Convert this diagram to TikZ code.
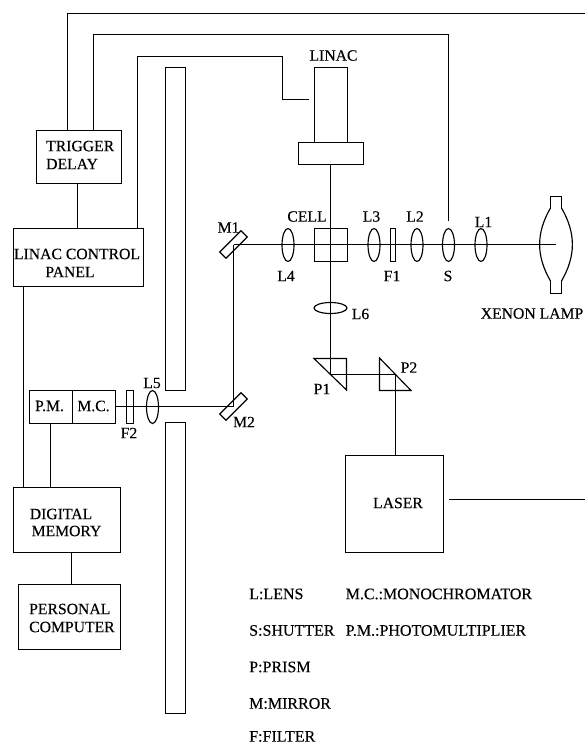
\documentclass[tikz,border=0pt]{standalone}
\usepackage{fontspec}
\setmainfont[FakeBold=0.25]{Liberation Serif}
\usetikzlibrary{shapes.geometric,calc}
\tikzset{
  wire/.style={line width=1.15pt,black},
  boxn/.style={draw=black,line width=1.15pt,inner sep=0pt,outer sep=0pt},
  lens/.style={draw=black,ellipse,line width=1.15pt,inner sep=0pt,outer sep=0pt,minimum width=#1},
  lens/.default=12pt,
  lab/.style={inner sep=0pt,font=\fontsize{15.7}{18}\selectfont},
  legend/.style={inner sep=0pt,anchor=west,font=\fontsize{16}{18}\selectfont},
  inbox/.style={inner sep=0pt,anchor=west,align=left,font=\fontsize{15.7}{18}\selectfont}
}
\begin{document}
\begin{tikzpicture}[x=1pt,y=-1pt]
\useasboundingbox (0,0) rectangle (585,744);
% boxes
\node[boxn,minimum width=85pt,minimum height=53pt] (trig) at (79,157) {};
\node[boxn,minimum width=130pt,minimum height=58pt] (panel) at (78.5,257.5) {};
\node[boxn,minimum width=43pt,minimum height=33pt] (pm) at (51,407) {};
\node[boxn,minimum width=43pt,minimum height=33pt] (mc) at (94,407) {};
\node[boxn,minimum width=107pt,minimum height=65pt] (mem) at (67,520) {};
\node[boxn,minimum width=102pt,minimum height=65pt] (pc) at (69.5,617) {};
\node[boxn,minimum width=33pt,minimum height=75pt] (linac) at (331,105) {};
\node[boxn,minimum width=65pt,minimum height=22pt] (base) at (331,153.5) {};
\node[boxn,minimum width=98pt,minimum height=97pt] (laser) at (394.5,504) {};
\node[boxn,minimum width=20pt,minimum height=323pt] (wallA) at (175.5,229) {};
\node[boxn,minimum width=20pt,minimum height=291pt] (wallB) at (175.5,568) {};
\node[boxn,minimum width=33pt,minimum height=33pt] (cell) at (331,245) {};
\node[boxn,minimum width=5pt,minimum height=33pt] (f1) at (393,245) {};
\node[boxn,minimum width=7pt,minimum height=33pt] (f2) at (130,407) {};
% box texts
\node[inbox] (tTrig) at (46,155) {TRIGGER\\DELAY};
\node[lab] (tPan1) at (77,254) {LINAC CONTROL};
\node[lab] (tPan2) at (70,272) {PANEL};
\node[lab] (tPM) at (49.5,406) {P.M.};
\node[lab] (tMC) at (93.5,406) {M.C.};
\node[lab] (tDig) at (61,514) {DIGITAL};
\node[lab] (tMem) at (66.5,531) {MEMORY};
\node[inbox] (tPC) at (29,618) {PERSONAL\\COMPUTER};
\node[lab] (tLaser) at (398,503) {LASER};
% free ends
\coordinate (topL) at (67.5,13.5);
\coordinate (topR) at (585,13.5);
\coordinate (secL) at (93.5,34.5);
\coordinate (secR) at (448.5,34.5);
\coordinate (sEnd) at (448.5,221);
\coordinate (thiL) at (137.5,56.5);
\coordinate (thiR) at (282.5,56.5);
\coordinate (thiB) at (282.5,99.5);
\coordinate (thiE) at (309,99.5);
\coordinate (beamR) at (556,244.5);
\coordinate (m1) at (233.5,244.5);
\coordinate (m2) at (233.5,406.5);
\coordinate (p1c) at (330.5,374.5);
\coordinate (p2c) at (395.5,374.5);
\coordinate (lasL) at (449,499.5);
\coordinate (lasR) at (585,499.5);
% optics
\foreach \n/\x in {l4/288,l3/374,l2/417,s/448.5,l1/481}
  \node[lens,minimum height=33pt] (\n) at (\x,245) {};
\node[lens,minimum height=33pt] (l5) at (152.5,407) {};
\node[lens=33pt,minimum height=11pt] (l6) at (330.5,308) {};
% wires
\draw[wire] (trig.north -| topL) -- (topL) -- (topR);
\draw[wire] (trig.north -| secL) -- (secL) -- (secR) -- (sEnd);
\draw[wire] (panel.north -| thiL) -- (thiL) -- (thiR) -- (thiB) -- (thiE);
\draw[wire] (trig.south -| 77.5,0) -- (panel.north -| 77.5,0);
\draw[wire] (panel.south -| 23.5,0) -- (mem.north -| 23.5,0);
\draw[wire] (pm.south -| 50.5,0) -- (mem.north -| 50.5,0);
\draw[wire] (mem.south -| 71.5,0) -- (pc.north -| 71.5,0);
% beams
\draw[wire] (m1) -- (beamR);
\draw[wire] (m1) -- (m2);
\draw[wire] (mc.east |- m2) -- (m2);
\draw[wire] (base.south -| p1c) -- (p1c) -- (p2c) -- (laser.north -| p2c);
\draw[wire] (lasL) -- (lasR);
% mirrors
\draw[wire] ($(m1)+(7.5,-13.7)$) -- ($(m1)+(13.7,-7.5)$) -- ($(m1)+(-7.5,13.7)$) -- ($(m1)+(-13.7,7.5)$) -- cycle;
\draw[wire] ($(m2)+(7.5,-13.7)$) -- ($(m2)+(13.7,-7.5)$) -- ($(m2)+(-7.5,13.7)$) -- ($(m2)+(-13.7,7.5)$) -- cycle;
% prisms
\draw[wire] (314,358.5) -- (346.5,358.5) -- (346.5,390) -- cycle;
\draw[wire] (379.5,358) -- (379.5,390.5) -- (411,390.5) -- cycle;
% lamp
\draw[wire] (550.5,209) -- (550.5,196.5) -- (561.5,196.5) -- (561.5,209);
\draw[wire] (550.5,280) -- (550.5,293.5) -- (561.5,293.5) -- (561.5,280);
\draw[wire] (550.5,208) .. controls (536,233) and (536,256) .. (550.5,281);
\draw[wire] (561.5,208) .. controls (576,233) and (576,256) .. (561.5,281);
% labels
\node[lab] (tLinac) at (333.5,55.5) {LINAC};
\node[lab] (tCell) at (307,216.5) {CELL};
\node[lab] (tM1) at (228.5,227.5) {M1};
\node[lab] (tL4) at (286,276) {L4};
\node[lab] (tL3) at (371.5,216.5) {L3};
\node[lab] (tL2) at (415,216.5) {L2};
\node[lab] (tL1) at (483.5,222) {L1};
\node[lab] (tF1) at (392,276) {F1};
\node[lab] (tS) at (448,276) {S};
\node[lab] (tL6) at (360.5,314) {L6};
\node[lab] (tXe) at (532,313.5) {XENON LAMP};
\node[lab] (tP1) at (322,389) {P1};
\node[lab] (tP2) at (409,367.5) {P2};
\node[lab] (tL5) at (152,383) {L5};
\node[lab] (tF2) at (129,433) {F2};
\node[lab] (tM2) at (244,422) {M2};
\node[legend] (k1) at (249,594) {L:LENS};
\node[legend] (k2) at (345.5,594) {M.C.:MONOCHROMATOR};
\node[legend] (k3) at (249,630.5) {S:SHUTTER};
\node[legend] (k4) at (345.5,630.5) {P.M.:PHOTOMULTIPLIER};
\node[legend] (k5) at (249,667) {P:PRISM};
\node[legend] (k6) at (249,703.5) {M:MIRROR};
\node[legend] (k7) at (249,736.5) {F:FILTER};
\end{tikzpicture}
\end{document}
